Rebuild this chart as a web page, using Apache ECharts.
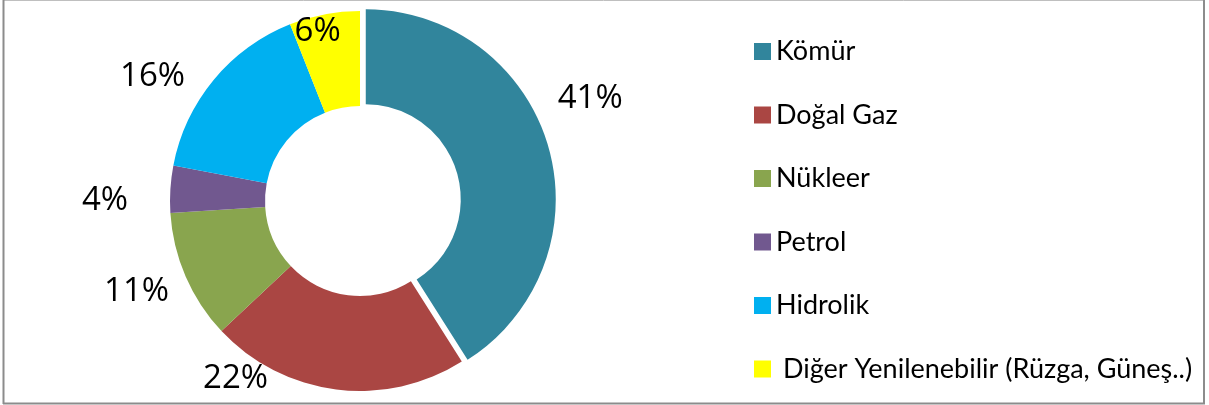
<!DOCTYPE html>
<html>
<head>
<meta charset="utf-8">
<title>Enerji kaynakları</title>
<script src="https://cdn.jsdelivr.net/npm/echarts@6/dist/echarts.min.js"></script>
<style>
  html, body { margin: 0; padding: 0; background: #fff; }
  #main { width: 1209px; height: 405px; }
</style>
</head>
<body>
<div id="main"></div>
<script>
// veri
var categories = ['Kömür', 'Doğal Gaz', 'Nükleer', 'Petrol', 'Hidrolik', ' Diğer Yenilenebilir (Rüzga, Güneş..)'];
var values = [41, 22, 11, 4, 16, 6];
var colors = ['#31859C', '#AA4643', '#89A54E', '#71588F', '#00B0F0', '#FFFF00'];

// etiket yerleşimi (derece, merkezden yarıçap)
var labelAngle = [66, 215, 248, 270, 301, 346];
var labelRadius = [252, 217, 241, 255, 242, 175];

var cx = 360, cy = 201;
var explode = 6;   // Kömür dilimi dışarı çekili

var total = values.reduce(function (s, v) { return s + v; }, 0);
var midA = values[0] / total * Math.PI;   // ilk dilimin orta açısı
var ex = cx + explode * Math.sin(midA);
var ey = cy - explode * Math.cos(midA);

function labelPos(i) {
    var a = labelAngle[i] * Math.PI / 180;
    var r = labelRadius[i];
    return { x: cx + r * Math.sin(a), y: cy - r * Math.cos(a), align: 'center', verticalAlign: 'middle' };
}

var hidden = { color: 'rgba(0,0,0,0)' };

// ana halka: Kömür dışındaki dilimler
var mainData = categories.map(function (name, i) {
    if (i === 0) {
        return { name: '_k', value: values[i], itemStyle: hidden, label: { show: false } };
    }
    return { name: name, value: values[i], itemStyle: { color: colors[i] } };
});

// kaydırılmış halka: sadece Kömür
var coalData = [
    { name: categories[0], value: values[0], itemStyle: { color: colors[0] } },
    { name: '_rest', value: total - values[0], itemStyle: hidden, label: { show: false } }
];

var pieBase = {
    type: 'pie',
    radius: [95, 190],
    startAngle: 90,
    clockwise: true,
    silent: true,
    avoidLabelOverlap: false,
    emphasis: { disabled: true },
    label: {
        show: true,
        position: 'outside',
        formatter: '{d}%',
        fontFamily: 'Open Sans',
        fontSize: 33,
        color: '#000'
    },
    labelLine: { show: false }
};

var option = {
    backgroundColor: '#fff',
    animation: false,
    legend: {
        orient: 'vertical',
        left: 749,
        top: 33,
        icon: 'rect',
        itemWidth: 17,
        itemHeight: 17,
        itemGap: 36.5,
        selectedMode: false,
        textStyle: {
            fontFamily: 'Lato',
            fontSize: 27,
            lineHeight: 27,
            color: '#000'
        },
        data: categories
    },
    graphic: [
        { type: 'line', shape: { x1: 3, y1: 0.5, x2: 1204, y2: 0.5 }, style: { stroke: '#bfbfbf', lineWidth: 1 } },
        { type: 'line', shape: { x1: 3.5, y1: 0, x2: 3.5, y2: 404 }, style: { stroke: '#8c8c8c', lineWidth: 2 } },
        { type: 'line', shape: { x1: 1204, y1: 0, x2: 1204, y2: 404 }, style: { stroke: '#8c8c8c', lineWidth: 2 } },
        { type: 'line', shape: { x1: 3, y1: 403.5, x2: 1205, y2: 403.5 }, style: { stroke: '#8c8c8c', lineWidth: 2 } }
    ],
    series: [
        Object.assign({}, pieBase, {
            name: 'main',
            center: [cx, cy],
            labelLayout: function (p) { return labelPos(p.dataIndex); },
            data: mainData
        }),
        Object.assign({}, pieBase, {
            name: 'coal',
            center: [ex, ey],
            labelLayout: function (p) { return labelPos(0); },
            data: coalData
        })
    ]
};

var myChart = echarts.init(document.getElementById('main'));
myChart.setOption(option);
</script>
</body>
</html>
